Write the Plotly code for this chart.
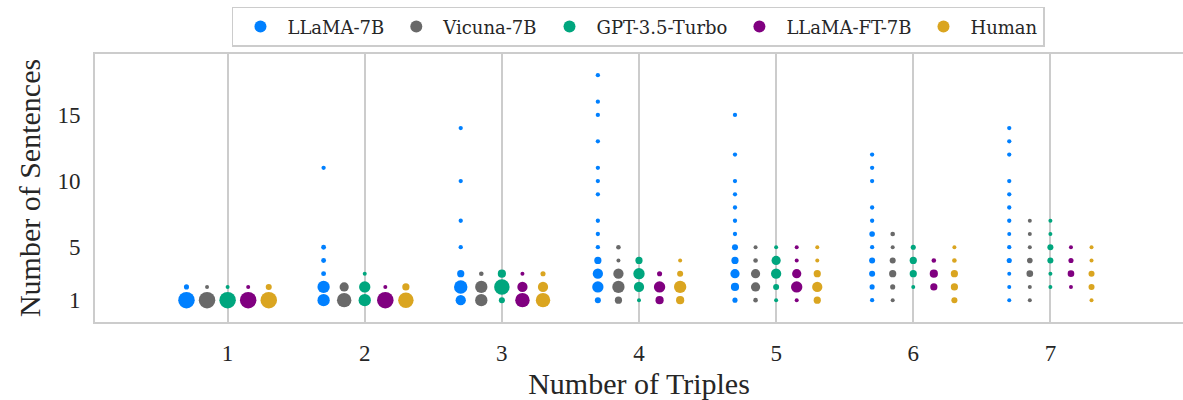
import plotly.graph_objects as go

# ---------------- data ----------------
SERIES = ["LLaMA-7B", "Vicuna-7B", "GPT-3.5-Turbo", "LLaMA-FT-7B", "Human"]
COLORS = ["#0080FF", "#696969", "#00A67E", "#800080", "#DAA520"]
X_TICKS = [1, 2, 3, 4, 5, 6, 7]
Y_TICKS = [1, 5, 10, 15]

# (number of triples, number of sentences, relative frequency weight 0-100)
LLAMA_X = [1, 1,
           2, 2, 2, 2, 2, 2,
           3, 3, 3, 3, 3, 3, 3,
           4, 4, 4, 4, 4, 4, 4, 4, 4, 4, 4, 4, 4, 4,
           5, 5, 5, 5, 5, 5, 5, 5, 5, 5, 5, 5,
           6, 6, 6, 6, 6, 6, 6, 6, 6, 6, 6,
           7, 7, 7, 7, 7, 7, 7, 7, 7, 7, 7, 7, 7]
LLAMA_Y = [1, 2,
           1, 2, 3, 4, 5, 11,
           1, 2, 3, 5, 7, 10, 14,
           1, 2, 3, 4, 5, 6, 7, 9, 10, 11, 13, 15, 16, 18,
           1, 2, 3, 4, 5, 6, 7, 8, 9, 10, 12, 15,
           1, 2, 3, 4, 5, 6, 7, 8, 10, 11, 12,
           1, 2, 3, 4, 5, 6, 7, 8, 9, 10, 12, 13, 14]
LLAMA_W = [100, 4,
           53, 53, 3, 3, 3, 1,
           35, 64, 14, 1, 1, 1, 1,
           8, 44, 35, 14, 1, 1, 1, 1, 1, 1, 1, 1, 1, 1,
           4, 20, 27, 14, 8, 1, 1, 1, 1, 1, 1, 1,
           1, 4, 8, 8, 1, 6, 1, 1, 1, 1, 1,
           0, 0, 0, 4, 1, 0, 1, 1, 1, 1, 1, 1, 1]

VICUNA_X = [1, 1, 2, 2, 3, 3, 3, 4, 4, 4, 4, 4,
            5, 5, 5, 5, 5, 6, 6, 6, 6, 6, 6, 7, 7, 7, 7, 7, 7, 7]
VICUNA_Y = [1, 2, 1, 2, 1, 2, 3, 1, 2, 3, 4, 5,
            1, 2, 3, 4, 5, 1, 2, 3, 4, 5, 6, 1, 2, 3, 4, 5, 6, 7]
VICUNA_W = [100, 0, 75, 27, 53, 53, 2, 14, 53, 35, 0, 2,
            2, 27, 27, 2, 0, 0, 4, 14, 8, 0, 2, 0, 0, 11, 6, 0, 0, 0]

GPT_X = [1, 1, 2, 2, 2, 3, 3, 3, 4, 4, 4, 4,
         5, 5, 5, 5, 5, 6, 6, 6, 6, 7, 7, 7, 7, 7, 7]
GPT_Y = [1, 2, 1, 2, 3, 1, 2, 3, 1, 2, 3, 4,
         1, 2, 3, 4, 5, 2, 3, 4, 5, 2, 3, 4, 5, 6, 7]
GPT_W = [100, 0, 53, 44, 0, 8, 87, 20, 0, 35, 44, 14,
         0, 8, 35, 27, 0, 0, 14, 14, 4, 0, 0, 8, 8, 0, 0]

FT_X = [1, 1, 2, 2, 3, 3, 3, 4, 4, 4,
        5, 5, 5, 5, 5, 6, 6, 6, 7, 7, 7, 7]
FT_Y = [1, 2, 1, 2, 1, 2, 3, 1, 2, 3,
        1, 2, 3, 4, 5, 2, 3, 4, 2, 3, 4, 5]
FT_W = [100, 0, 100, 0, 75, 35, 0, 20, 44, 4,
        0, 44, 27, 0, 0, 14, 20, 2, 0, 11, 4, 0]

HUMAN_X = [1, 1, 2, 2, 3, 3, 3, 4, 4, 4, 4,
           5, 5, 5, 5, 5, 6, 6, 6, 6, 6, 7, 7, 7, 7, 7]
HUMAN_Y = [1, 2, 1, 2, 1, 2, 3, 1, 2, 3, 4,
           1, 2, 3, 4, 5, 1, 2, 3, 4, 5, 1, 2, 3, 4, 5]
HUMAN_W = [100, 8, 87, 14, 75, 35, 4, 20, 53, 8, 0,
           14, 35, 14, 0, 0, 8, 14, 14, 2, 0, 0, 8, 8, 0, 0]

DATA = [(LLAMA_X, LLAMA_Y, LLAMA_W), (VICUNA_X, VICUNA_Y, VICUNA_W),
        (GPT_X, GPT_Y, GPT_W), (FT_X, FT_Y, FT_W), (HUMAN_X, HUMAN_Y, HUMAN_W)]

# ---------------- figure ----------------
MIN_D, MAX_D = 4.0, 16.5
DODGE = 0.15


def diam(w):
    # weight maps linearly to marker area
    return (MIN_D ** 2 + (MAX_D ** 2 - MIN_D ** 2) * w / 100.0) ** 0.5


fig = go.Figure()
for i, (name, color, (xs, ys, ws)) in enumerate(zip(SERIES, COLORS, DATA)):
    off = (i - 2) * DODGE
    fig.add_trace(go.Scatter(
        x=[x + off for x in xs], y=ys, mode="markers", name=name,
        marker=dict(color=color, size=[diam(w) for w in ws],
                    sizemode="diameter", line=dict(width=0), opacity=1),
    ))

SERIF = "Liberation Serif"
fig.update_layout(
    width=1183, height=400,
    margin=dict(l=95, r=0, t=54, b=78, autoexpand=False),
    paper_bgcolor="white", plot_bgcolor="white",
    font=dict(family=SERIF, color="#262626"),
    showlegend=True,
    legend=dict(orientation="h", x=0.4995, xanchor="center", y=1.176, yanchor="top",
                bgcolor="white", bordercolor="#cccccc", borderwidth=1.5,
                font=dict(family="DejaVu Serif", size=18, color="#262626"),
                itemsizing="constant", itemwidth=44, tracegroupgap=0),
    xaxis=dict(range=[0.033, 7.967], tickmode="array", tickvals=X_TICKS,
               ticktext=[str(v) for v in X_TICKS],
               showgrid=True, gridcolor="#cccccc", gridwidth=2,
               zeroline=False, showline=True, linecolor="#cccccc", linewidth=2,
               mirror=True, ticks="", tickfont=dict(family=SERIF, size=23),
               ticklabelstandoff=9, automargin=False,
               title=dict(text="Number of Triples", font=dict(family=SERIF, size=30), standoff=8)),
    yaxis=dict(range=[-0.65, 19.6], tickmode="array", tickvals=Y_TICKS,
               ticktext=[str(v) for v in Y_TICKS],
               showgrid=False, zeroline=False, showline=True, linecolor="#cccccc",
               linewidth=2, mirror=True, ticks="", tickfont=dict(family=SERIF, size=23),
               ticklabelstandoff=8, automargin=False,
               title=dict(text="Number of Sentences", font=dict(family=SERIF, size=30), standoff=8)),
)

fig.write_html("out.html", config={"displayModeBar": False},
               post_script="document.body.style.margin='0';")
